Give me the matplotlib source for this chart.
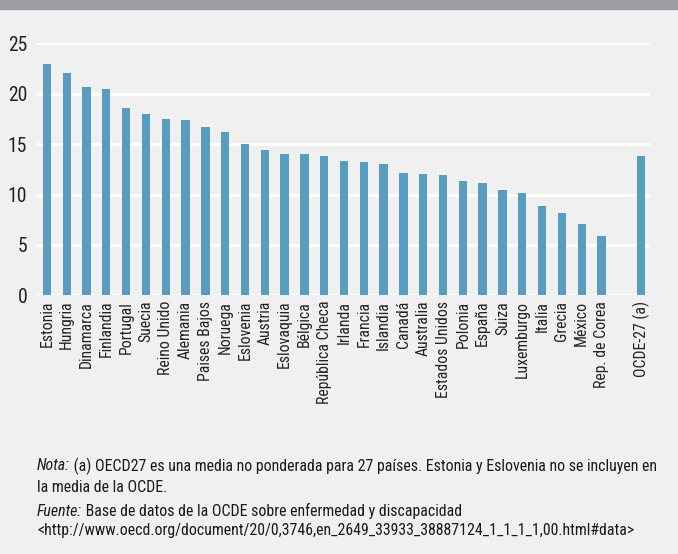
import matplotlib.pyplot as plt
import matplotlib.patches as mpatches
from matplotlib import font_manager

countries = ["Estonia", "Hungria", "Dinamarca", "Finlandia", "Portugal", "Suecia",
             "Reino Unido", "Alemania", "Paises Bajos", "Noruega", "Eslovenia",
             "Austria", "Eslovaquia", "Bélgica", "República Checa", "Irlanda",
             "Francia", "Islandia", "Canadá", "Australia", "Estados Unidos",
             "Polonia", "España", "Suiza", "Luxemburgo", "Italia", "Grecia",
             "México", "Rep. de Corea"]
values = [22.9, 22.1, 20.7, 20.5, 18.6, 18.0, 17.5, 17.4, 16.7, 16.2, 15.0,
          14.4, 14.0, 14.0, 13.8, 13.3, 13.2, 13.0, 12.1, 12.0, 11.9,
          11.3, 11.1, 10.4, 10.1, 8.9, 8.2, 7.1, 5.9]
avg_label = "OCDE-27 (a)"
avg_value = 13.8

bg = "#eff0ef"
bar_col = "#589cc0"

# look for a narrow font, else plain DejaVu
fonts = font_manager.fontManager.ttflist
names = set(f.name for f in fonts)
stretch = "normal"
family = "DejaVu Sans"
for cand in ["Liberation Sans Narrow", "Roboto Condensed", "Open Sans Condensed",
             "DejaVu Sans Condensed"]:
    if cand in names:
        family = cand
        break
else:
    for f in fonts:
        if f.name in ("DejaVu Sans", "Open Sans", "Noto Sans", "Roboto") and "ondensed" in str(f.stretch):
            family = f.name
            stretch = "condensed"
            break
plt.rcParams['font.family'] = [family, 'DejaVu Sans']
plt.rcParams['font.stretch'] = stretch

fig = plt.figure(figsize=(6.78, 5.54), dpi=100, facecolor=bg)
fig.patches.append(mpatches.Rectangle((0, 1 - 9 / 554), 1, 9 / 554,
                                      transform=fig.transFigure,
                                      color="#9e9da2", zorder=0))
renderer = fig.canvas.get_renderer()


def fit_size(s, target_px, base=10, **kw):
    t = fig.text(0, 0, s, fontsize=base, **kw)
    w = t.get_window_extent(renderer).width
    t.remove()
    return base * target_px / w


ax = fig.add_axes([37 / 678, 1 - 295.3 / 554, (650 - 37) / 678, 252 / 554])
ax.set_facecolor(bg)

pos = list(range(len(countries)))
avg_pos = len(countries) + 1
ax.bar(pos, values, width=0.42, color=bar_col, zorder=3)
ax.bar([avg_pos], [avg_value], width=0.42, color=bar_col, zorder=3)

ax.set_xlim(-0.5, avg_pos + 0.45)
ax.set_ylim(0, 25)
ax.set_yticks([0, 5, 10, 15, 20, 25])
ax.yaxis.grid(True, color="white", linewidth=2.2)
ax.set_axisbelow(True)
for s in ax.spines.values():
    s.set_visible(False)

tick_fs = fit_size("República Checa", 103)
ax.tick_params(axis="y", length=0, labelsize=tick_fs * 1.25, pad=7, labelcolor="#222222")
ax.tick_params(axis="x", length=0, labelsize=tick_fs, pad=4, labelcolor="#222222")
ax.set_xticks(pos + [avg_pos])
ax.set_xticklabels(countries + [avg_label], rotation=90)

nota = "Nota: (a) OECD27 es una media no ponderada para 27 países. Estonia y Eslovenia no se incluyen en"
url = "<http://www.oecd.org/document/20/0,3746,en_2649_33933_38887124_1_1_1_1,00.html#data>"
fs = (fit_size(url, 606) + fit_size(nota, 608)) / 2


def line(parts, y):
    # parts: list of (text, italic) drawn one after the other
    x = 37
    for txt, it in parts:
        t = fig.text(x / 678, 1 - y / 554, txt, fontsize=fs, va="center",
                     style="italic" if it else "normal", color="#1a1a1a")
        x += t.get_window_extent(renderer).width


line([("Nota:", True), (" (a) OECD27 es una media no ponderada para 27 países. "
                        "Estonia y Eslovenia no se incluyen en", False)], 466)
line([("la media de la OCDE.", False)], 487)
line([("Fuente:", True), (" Base de datos de la OCDE sobre enfermedad y discapacidad", False)], 511)
line([(url, False)], 531)

fig.savefig("out.png", dpi=100, facecolor=bg)
